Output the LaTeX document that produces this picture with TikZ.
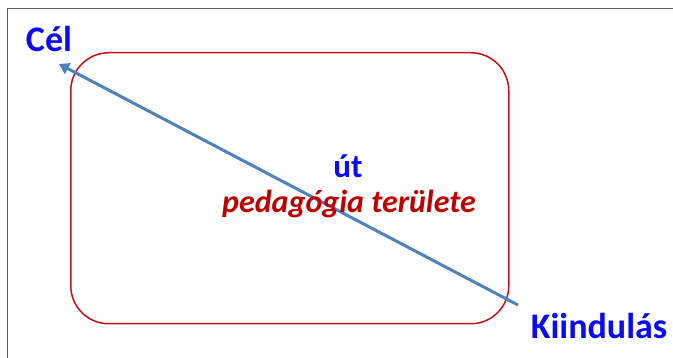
\documentclass[tikz,border=0pt]{standalone}
\usepackage{fontspec}
\setmainfont{Carlito}
\usetikzlibrary{arrows.meta}
\definecolor{frame}{RGB}{90,90,90}
\definecolor{areared}{RGB}{200,16,24}
\definecolor{txtred}{RGB}{192,0,0}
\definecolor{arrowblue}{RGB}{79,129,189}
\definecolor{lblblue}{RGB}{10,10,245}
\tikzset{
  lbl/.style={text=lblblue, font=\bfseries\fontsize{36}{38}\selectfont, inner sep=0pt},
  area/.style={draw=areared, line width=1.5pt, rounded corners=38pt},
  path/.style={draw=arrowblue, line width=3pt, -{Triangle[width=12pt,length=10pt]}},
}
\begin{document}
\begin{tikzpicture}[x=1pt,y=-1pt]
\useasboundingbox (0,0) rectangle (673,358);
\draw[frame, line width=1.5pt] (7.5,358) -- (7.5,8.5) -- (673,8.5);
\node[area, minimum width=438pt, minimum height=271pt, anchor=north west] (box) at (70,52) {};
\node[lbl, anchor=base] (cel) at (49,52) {Cél};
\node[lbl, anchor=base] (kiind) at (599,339) {Kiindulás};
\coordinate (start) at (518,305);
\coordinate (goal) at (59,64);
\draw[path] (start) -- (goal);
\node[text=lblblue, font=\bfseries\fontsize{33}{35}\selectfont, inner sep=0pt, anchor=base] (ut) at (348,178) {út};
\node[text=txtred, font=\bfseries\itshape\fontsize{32}{34}\selectfont, inner sep=0pt, anchor=base] (ped) at (349,213) {pedagógia területe};
\end{tikzpicture}
\end{document}
